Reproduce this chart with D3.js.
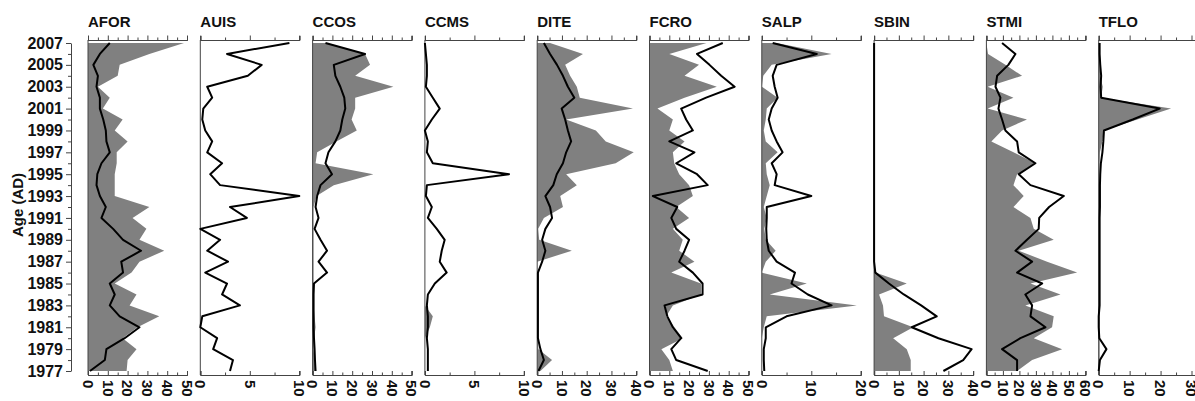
<!DOCTYPE html>
<html>
<head>
<meta charset="utf-8">
<script src="https://cdn.jsdelivr.net/npm/d3@7"></script>
<style>
  body { margin: 0; background: #fff; }
  text { font-family: "Liberation Sans", Arial, sans-serif; fill: #111; font-weight: bold; }
  .axis path, .axis line { stroke: #444; }
</style>
</head>
<body>
<svg id="chart" width="1195" height="401"></svg>
<script>
// years, top (2007) to bottom (1977)
var years = d3.range(2007, 1976, -1);

var taxa = ["AFOR", "AUIS", "CCOS", "CCMS", "DITE", "FCRO", "SALP", "SBIN", "STMI", "TFLO"];
var xMax = [50, 10, 50, 10, 40, 50, 20, 40, 60, 32];
var labelStep = [10, 5, 10, 5, 10, 10, 10, 10, 10, 10];
var minorStep = [5, 2.5, 5, 2.5, 5, 5, 5, 5, 5, 5];

// gray silhouettes (one value per year, 2007 -> 1977)
var aforArea = [48.5, 31, 16, 15, 5, 11, 7.5, 17.5, 13.5, 20, 14.5, 14.5, 13.5, 13.5, 13.5, 31, 22.5, 29.5, 26, 38.5, 26, 22, 13.5, 24.5, 21, 36, 25, 17.5, 24.5, 20, 19.5];
var auisArea = [0, 0, 0, 0, 0, 0, 0, 0, 0, 0, 0, 0, 0, 0, 0, 0, 0, 0, 0, 0, 0, 0, 0, 0, 0, 0, 0, 0, 0, 0, 0];
var ccosArea = [6.5, 26.5, 29, 21.5, 40.8, 21.5, 21.5, 19.7, 22.3, 12, 2.3, 1.5, 30.7, 10.7, 2, 0.5, 0.5, 0.5, 0.5, 0.5, 0.5, 0.5, 0.5, 0.5, 0.5, 1, 1.5, 0.8, 0.5, 1, 1.5];
var ccmsArea = [0, 0, 0, 0, 0, 0, 0, 0, 0, 0, 0, 0, 0, 0, 0, 0, 0, 0, 0, 0, 0, 0, 0, 0, 0, 0.8, 0.5, 0, 0, 0, 0];
var diteArea = [5.2, 18.5, 11.3, 13.3, 16, 17.2, 38.7, 11.7, 23.7, 27.7, 39, 31.7, 11.7, 16, 9.3, 10.4, 2.7, 0.4, 0.8, 14, 0, 0, 0, 0.3, 0, 0, 0, 0.3, 0.5, 6, 1.3];
var fcroArea = [28.8, 10, 25, 17.7, 34, 17.7, 4, 11.8, 10, 17.7, 11.8, 12.5, 15, 20, 21.9, 13.5, 20, 11.8, 16.8, 15, 22.7, 11, 26, 26, 11.8, 8.4, 12.6, 16.8, 6, 10, 11.8];
var salpArea = [3, 14.1, 2, 0.3, 0, 3.2, 1, 0.8, 0.4, 0.8, 3.2, 0.8, 1, 1.6, 1, 0.4, 1, 0.5, 0.8, 2.8, 0.8, 0, 9.1, 1.6, 19.2, 1, 0.4, 0, 0, 0, 0];
var sbinArea = [0, 0, 0, 0, 0, 0, 0, 0, 0, 0, 0, 0, 0, 0, 0, 0, 0, 0, 0, 0, 0, 0.5, 13.2, 2, 3.6, 4, 15.8, 7.7, 13.2, 14.8, 14.8];
var stmiArea = [0, 1, 11.5, 21.6, 0.8, 16.4, 0.8, 24.6, 9.5, 3, 16.4, 29.7, 18.6, 16.4, 22.6, 16.4, 26.7, 28.7, 40.8, 19.6, 36.8, 55, 26.7, 44.9, 23.6, 40.8, 39.8, 28.7, 45.9, 27.7, 18.6];
var tfloArea = [0.3, 0.3, 0.3, 0.5, 1.3, 0.8, 23.4, 12.5, 1.6, 1.2, 0.4, 0.3, 0.3, 0.3, 0.3, 0.3, 0.3, 0.3, 0.3, 0.3, 0.3, 0.3, 0.3, 0.3, 0.3, 0.3, 0.3, 0.3, 0.3, 0.3, 0.3];

// black curves
var aforLine = [11, 6, 2.7, 5, 4.3, 6, 6, 7.7, 9, 9.3, 11, 6.8, 4.7, 4.3, 6, 9, 6.8, 12.7, 17.7, 26.8, 16.8, 17.7, 11, 13.5, 11, 16, 26, 18.5, 9.3, 8.5, 1];
var auisLine = [9, 2.7, 6.2, 4.8, 0.7, 1.2, 0.3, 0.2, 0.5, 1.2, 0.7, 2.2, 1, 2, 10, 3, 4.7, 0, 2, 0.7, 2.8, 0.5, 2.7, 2.2, 4, 0.2, 0, 1.7, 1.3, 3.3, 3];
var ccosLine = [6.5, 26.5, 10.7, 11.5, 14, 16, 16.5, 15, 14, 11.5, 8, 6.5, 9.8, 4, 2.3, 1.5, 3, 1, 4, 7.3, 3, 7.3, 0.7, 0.5, 0.5, 0.5, 0.5, 0.7, 1, 1.2, 1.5];
var ccmsLine = [0, 0.1, 0.2, 0.2, 0.1, 0.8, 1.5, 0.7, 0, 0.3, 0.2, 0.8, 8.5, 0.2, 0.1, 0.7, 0.3, 1.2, 2, 1.7, 1.5, 2.2, 1, 0.3, 0.2, 0.3, 0.3, 0.2, 0.3, 0.3, 0.3];
var diteLine = [2.7, 5.2, 8, 10.4, 12.4, 15, 9.9, 11.3, 12.4, 13.7, 11.7, 10.4, 7.9, 6.5, 3.3, 5.2, 6, 3.3, 2, 3.3, 2, 0.3, 0.3, 0.3, 0.3, 0.3, 0.3, 0.3, 1.3, 2.7, 0.5];
var fcroLine = [37, 24, 30.3, 36.2, 43, 28.6, 16, 18.5, 21.9, 10, 22.7, 13.5, 24, 29.4, 1.7, 14, 11, 13.5, 20, 17.7, 15, 21.9, 26.8, 26.8, 7.6, 9, 11.8, 16, 11, 13.5, 29.4];
var salpLine = [2.2, 11.1, 3, 2.2, 2.6, 3.2, 2, 1.4, 2, 3, 4.2, 2, 3, 2.6, 10, 1, 1, 0.9, 1, 1.4, 3, 6.7, 6, 9.3, 14.1, 5, 0.8, 0.8, 0.4, 0.4, 0.5];
var sbinLine = [0, 0, 0, 0, 0, 0, 0, 0, 0, 0, 0, 0, 0, 0, 0, 0, 0, 0, 0, 0, 0, 0.5, 6, 12, 19, 25.3, 15.2, 26, 39.4, 36, 28];
var stmiLine = [9.5, 17.6, 13.3, 6.5, 5.5, 8.5, 7.3, 9.5, 11.5, 18.6, 19.6, 29.7, 19.6, 26.7, 46.9, 38, 32, 31.7, 24.6, 17.6, 27.7, 18.6, 33.8, 23.6, 27.7, 26.7, 35.8, 20.6, 9.5, 18.6, 18.6];
var tfloLine = [0.3, 0.3, 0.5, 0.8, 0.6, 0.8, 19.7, 11, 1.7, 1.5, 1.2, 0.7, 0.5, 0.4, 0.4, 0.4, 0.3, 0.3, 0.3, 0.3, 0.3, 0.3, 0.3, 0.3, 0.3, 0, 0, 0.2, 2.5, 0.4, 0];

var areas = [aforArea, auisArea, ccosArea, ccmsArea, diteArea, fcroArea, salpArea, sbinArea, stmiArea, tfloArea];
var lines = [aforLine, auisLine, ccosLine, ccmsLine, diteLine, fcroLine, salpLine, sbinLine, stmiLine, tfloLine];

var svg = d3.select("#chart");

var y = d3.scaleLinear().domain([2007, 1977]).range([43, 371]);
var top_ = 40, bottom = 375;

// y axis: labels on odd years, short ticks on even
svg.append("g").attr("class", "axis").attr("transform", "translate(71,0)")
    .call(d3.axisLeft(y).tickValues(years.filter(d => d % 2 == 0)).tickSize(3).tickSizeOuter(0).tickFormat(""));
var yAx = svg.append("g").attr("class", "axis").attr("transform", "translate(71,0)")
    .call(d3.axisLeft(y).tickValues(years.filter(d => d % 2 == 1)).tickSize(5).tickSizeOuter(0).tickFormat(d3.format("d")).tickPadding(3));
yAx.selectAll("text").style("font-size", "16px").attr("fill", "#111");
yAx.select(".domain").remove();

svg.append("text")
    .attr("transform", "translate(23,205) rotate(-90)")
    .attr("text-anchor", "middle")
    .style("font-size", "15px")
    .text("Age (AD)");

taxa.forEach(function(name, i) {
    var x0 = 88 + i * 112.3;
    var x = d3.scaleLinear().domain([0, xMax[i]]).range([x0, x0 + 99]);
    var lastTick = Math.floor(xMax[i] / labelStep[i]) * labelStep[i];
    var major = d3.range(0, lastTick + 0.001, labelStep[i]);
    var minor = d3.range(0, lastTick + 0.001, minorStep[i]).filter(v => major.indexOf(v) < 0);
    var data = years.map((yr, k) => ({year: yr, a: areas[i][k], l: lines[i][k]}));

    var g = svg.append("g");

    g.append("path").datum(data)
        .attr("fill", "#808080")
        .attr("d", d3.area().y(d => y(d.year)).x0(x(0)).x1(d => x(d.a)));

    g.append("line")
        .attr("x1", x0).attr("x2", x0).attr("y1", top_).attr("y2", bottom)
        .attr("stroke", "#444");

    g.append("path").datum(data)
        .attr("fill", "none").attr("stroke", "#000").attr("stroke-width", 2)
        .attr("stroke-linejoin", "round")
        .attr("d", d3.line().y(d => y(d.year)).x(d => x(d.l)));

    // top axis
    g.append("g").attr("class", "axis").attr("transform", "translate(0," + top_ + ")")
        .call(d3.axisTop(x).tickValues(minor).tickSize(2.5).tickSizeOuter(4).tickFormat(""));
    g.append("g").attr("class", "axis").attr("transform", "translate(0," + top_ + ")")
        .call(d3.axisTop(x).tickValues(major).tickSize(4.5).tickSizeOuter(4).tickFormat(""));

    // bottom axis, ticks pointing in
    g.append("g").attr("class", "axis").attr("transform", "translate(0," + bottom + ")")
        .call(d3.axisBottom(x).tickValues(minor).tickSize(-2.5).tickSizeOuter(-4).tickFormat(""));
    g.append("g").attr("class", "axis").attr("transform", "translate(0," + bottom + ")")
        .call(d3.axisBottom(x).tickValues(major).tickSize(-4).tickSizeOuter(-4).tickFormat(""));

    g.selectAll(".xlab").data(major).enter().append("text")
        .attr("transform", d => "translate(" + x(d) + "," + (bottom + 5) + ") rotate(90)")
        .attr("dy", "0.35em")
        .attr("text-anchor", "start")
        .style("font-size", "15px")
        .text(d => d);

    g.append("text")
        .attr("x", x0).attr("y", 27)
        .style("font-size", "15px")
        .text(name);
});
</script>
</body>
</html>
